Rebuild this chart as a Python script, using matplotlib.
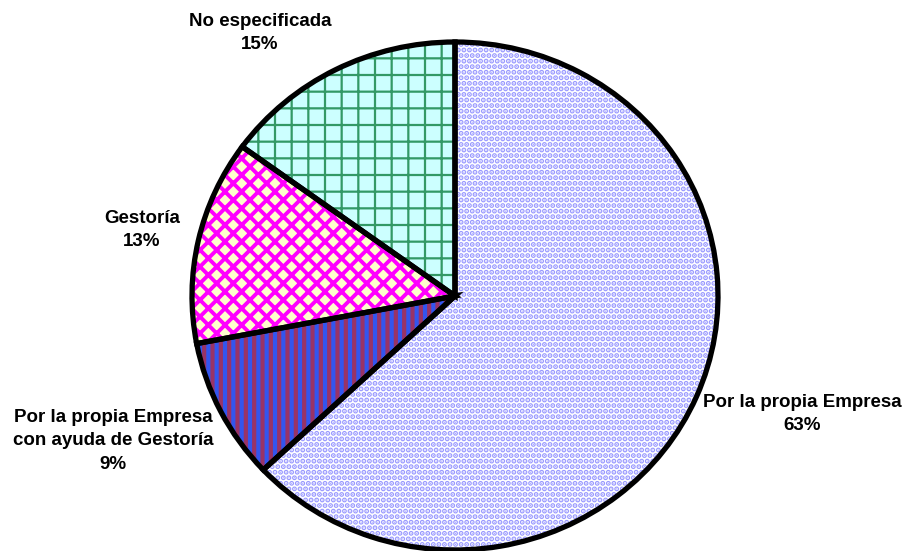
import matplotlib
matplotlib.use("Agg")
import matplotlib.pyplot as plt

labels = ["Por la propia Empresa", "Por la propia Empresa\ncon ayuda de Gestoría",
          "Gestoría", "No especificada"]
values = [63, 9, 13, 15]
face_colors = ["#FFFFFF", "#3355EE", "#FFFFCC", "#CCFFFF"]
hatch_colors = ["#9999FF", "#993366", "#FF00FF", "#339966"]
hatches = ["...", "||", "xx", "+"]
hatch_widths = [2.6, 3.0, 2.8, 1.6]

# label text anchors in figure fraction (x, y)
label_pos = [(0.888, 0.249), (0.125, 0.200), (0.157, 0.583), (0.288, 0.940)]

plt.rcParams['font.family'] = ['Liberation Sans', 'DejaVu Sans']

fig = plt.figure(figsize=(9.03, 5.51), dpi=100)
ax = fig.add_axes([0, 0, 1, 1])

# base fill
ax.pie(values, colors=face_colors, startangle=90, counterclock=False,
       wedgeprops=dict(linewidth=0))

# hatch overlays, one pie per wedge so each gets its own hatch colour and width
for i in range(len(values)):
    with plt.rc_context({'hatch.linewidth': hatch_widths[i]}):
        w, _ = ax.pie(values, colors=["none"] * 4, startangle=90,
                      counterclock=False, wedgeprops=dict(linewidth=0))
    for j, wg in enumerate(w):
        if j == i:
            wg.set_hatch(hatches[i])
            wg.set_edgecolor(hatch_colors[i])
            wg.set_facecolor("none")
        else:
            wg.set_visible(False)

# outlines
ax.pie(values, colors=["none"] * 4, startangle=90, counterclock=False,
       wedgeprops=dict(linewidth=3.8, edgecolor="black", fill=False))

ax.set_aspect('auto')
ax.set_xlim(-455 / 263, (903 - 455) / 263)
ax.set_ylim(-(551 - 296) / 254, 296 / 254)
ax.axis('off')

for lab, v, (x, y) in zip(labels, values, label_pos):
    fig.text(x, y, f"{lab}\n{v}%", ha="center", va="center", fontsize=13.5,
             fontweight="bold", linespacing=1.5)

fig.savefig("out.png", dpi=100)
